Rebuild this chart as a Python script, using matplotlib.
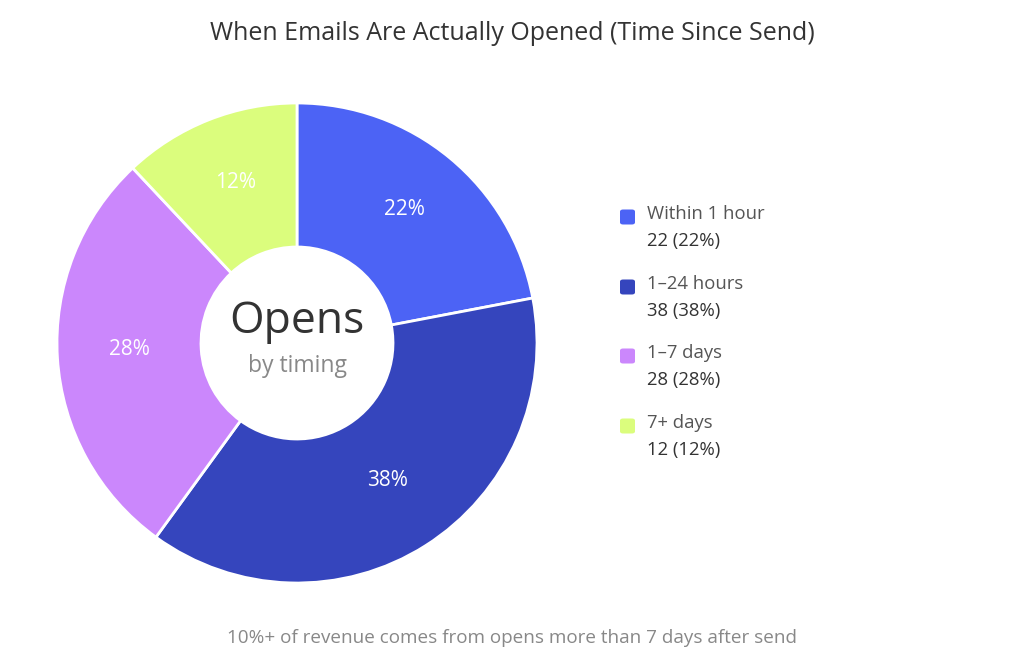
import matplotlib
matplotlib.use("Agg")
import matplotlib.pyplot as plt
from matplotlib.patches import FancyBboxPatch

plt.rcParams['font.family'] = ['Open Sans', 'DejaVu Sans']

categories = ["Within 1 hour", "1\u201324 hours", "1\u20137 days", "7+ days"]
values = [22, 38, 28, 12]
colors = ["#4C63F5", "#3545BD", "#CB87FC", "#DBFD7D"]
title = "When Emails Are Actually Opened (Time Since Send)"
footer = "10%+ of revenue comes from opens more than 7 days after send"

W, H = 1024, 662
fig = plt.figure(figsize=(W / 100, H / 100), dpi=100)
fig.patch.set_facecolor("white")

cx, cy, R = 297, 343, 240
ax = fig.add_axes([(cx - R) / W, (H - cy - R) / H, 2 * R / W, 2 * R / H])

total = sum(values)
wedges, texts, autotexts = ax.pie(
    values, colors=colors, startangle=90, counterclock=False, radius=1,
    wedgeprops=dict(width=0.6, edgecolor="white", linewidth=2),
    autopct=lambda p: f"{p:.0f}%", pctdistance=0.70,
    textprops=dict(color="white", fontsize=15),
)
for t in autotexts:
    x, y = t.get_position()
    t.set_position((x, y + 0.018))
ax.set_xlim(-1, 1)
ax.set_ylim(-1, 1)
ax.set_aspect("equal")
ax.axis("off")

ax.text(0, 0.09, "Opens", ha="center", va="center", fontsize=32, color="#333333")
ax.text(0, -0.097, "by timing", ha="center", va="center", fontsize=16.5, color="#888888")

fig.text(0.5, 1 - 34 / H, title, ha="center", va="center", fontsize=18, color="#333333")
fig.text(0.5, 1 - 638 / H, footer, ha="center", va="center", fontsize=13.6, color="#888888")

# legend
ys = [217, 287, 356, 426]
for cat, v, c, y in zip(categories, values, colors, ys):
    s = 15
    box = FancyBboxPatch((620 / W, (H - y - s / 2) / H), s / W, s / H,
                         boxstyle="round,pad=0,rounding_size=0.003",
                         transform=fig.transFigure, facecolor=c, edgecolor="none")
    fig.patches.append(box)
    fig.text(647 / W, 1 - (y - 3) / H, cat, ha="left", va="center", fontsize=13.3, color="#555555")
    fig.text(647 / W, 1 - (y + 24) / H, f"{v} ({v / total * 100:.0f}%)", ha="left", va="center",
             fontsize=13.3, color="#333333")

fig.savefig("out.png", dpi=100, facecolor="white")
